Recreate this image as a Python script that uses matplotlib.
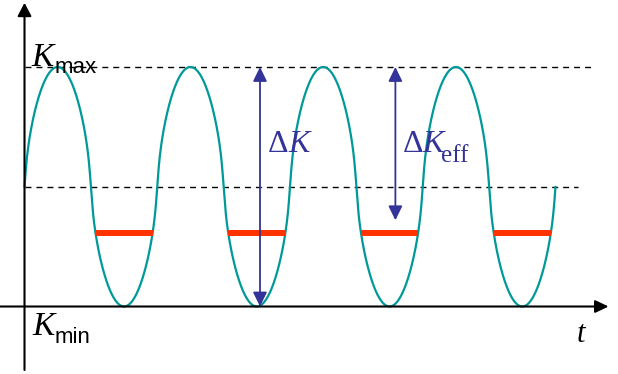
import numpy as np
import matplotlib
matplotlib.use("Agg")
import matplotlib.pyplot as plt

# ---- data (t in load cycles, K normalised: K_min = 0, K_max = 1) ----
K_MAX = 1.0
K_MIN = 0.0
K_OP = 0.307          # opening level (red segments)
N_CYCLES = 4
SHAPE = 0.6           # waveform exponent (rounded-square sine as drawn)
SMOOTH = 0.01         # rounding of the waveform at the mean crossings
DK_ARROW_T = 1.774    # position of the Delta K arrow
DKEFF_ARROW_T = 2.794 # position of the Delta K_eff arrow
DKEFF_ARROW_BOTTOM = 0.36
KMAX_LINE_END = 4.298
KMEAN_LINE_END = 4.17

TEAL = "#009999"
RED = "#ff3300"
BLUE = "#333399"

k_mean = (K_MAX + K_MIN) / 2
amp = (K_MAX - K_MIN) / 2

t = np.linspace(0, N_CYCLES, 4001)
s = np.sin(2 * np.pi * t)
shape = s / (s ** 2 + SMOOTH) ** ((1 - SHAPE) / 2)
shape = shape * (1 + SMOOTH) ** ((1 - SHAPE) / 2)
K = k_mean + amp * shape

fig = plt.figure(figsize=(6.18, 3.74), dpi=100)
ax = fig.add_axes([0, 0, 1, 1])
ax.set_xlim(-0.1846, 4.471)
ax.set_ylim(-0.2818, 1.2797)
ax.axis("off")

# dashed reference lines
dash = (0, (4.3, 3.6))
ax.plot([0, KMAX_LINE_END], [K_MAX, K_MAX], color="black", lw=1.0, linestyle=dash)
ax.plot([0, KMEAN_LINE_END], [k_mean, k_mean], color="black", lw=1.0, linestyle=dash)

# waveform
ax.plot(t, K, color=TEAL, lw=1.6, solid_capstyle="round")

# red segments: portions of each cycle below the opening level
below = K < K_OP
edges = np.flatnonzero(np.diff(below.astype(int)))
starts = t[edges[::2] + 1]
ends = t[edges[1::2]]
for a, b in zip(starts, ends):
    ax.plot([a, b], [K_OP, K_OP], color=RED, lw=4.3, solid_capstyle="butt")

# axes with arrows
ax.annotate("", xy=(0, 1.268), xytext=(0, -0.265),
            arrowprops=dict(arrowstyle="-|>,head_length=0.8,head_width=0.42",
                            color="black", lw=1.5,
                            shrinkA=0, shrinkB=0, mutation_scale=10))
ax.annotate("", xy=(4.40, K_MIN), xytext=(-0.1846, K_MIN),
            arrowprops=dict(arrowstyle="-|>,head_length=0.8,head_width=0.38",
                            color="black", lw=1.5,
                            shrinkA=0, shrinkB=0, mutation_scale=10))

# blue double arrows
bstyle = "<|-|>,head_length=0.86,head_width=0.42"
ax.annotate("", xy=(DK_ARROW_T, K_MAX), xytext=(DK_ARROW_T, K_MIN),
            arrowprops=dict(arrowstyle=bstyle, color=BLUE, lw=1.3,
                            shrinkA=0, shrinkB=0, mutation_scale=10))
ax.annotate("", xy=(DKEFF_ARROW_T, K_MAX), xytext=(DKEFF_ARROW_T, DKEFF_ARROW_BOTTOM),
            arrowprops=dict(arrowstyle=bstyle, color=BLUE, lw=1.3,
                            shrinkA=0, shrinkB=0, mutation_scale=10))

serif = "Liberation Serif"
sans = "Liberation Sans"

# labels
ax.text(0.050, 1.005, "K", family=serif, style="italic", fontsize=24,
        ha="left", va="baseline", color="black")
ax.text(0.228, 0.975, "max", family=sans, fontsize=16,
        ha="left", va="baseline", color="black")
ax.text(0.060, -0.119, "K", family=serif, style="italic", fontsize=24,
        ha="left", va="baseline", color="black")
ax.text(0.228, -0.152, "min", family=sans, fontsize=16,
        ha="left", va="baseline", color="black")
ax.text(4.160, -0.147, "t", family=serif, style="italic", fontsize=22,
        ha="left", va="baseline", color="black")

ax.text(1.834, 0.646, "\u0394", family=serif, fontsize=23,
        ha="left", va="baseline", color=BLUE)
ax.text(1.985, 0.646, "K", family=serif, style="italic", fontsize=23,
        ha="left", va="baseline", color=BLUE)
ax.text(2.851, 0.646, "\u0394", family=serif, fontsize=23,
        ha="left", va="baseline", color=BLUE)
ax.text(2.995, 0.646, "K", family=serif, style="italic", fontsize=23,
        ha="left", va="baseline", color=BLUE)
ax.text(3.140, 0.603, "eff", family=serif, fontsize=18,
        ha="left", va="baseline", color=BLUE)

fig.savefig("out.png", dpi=100)
